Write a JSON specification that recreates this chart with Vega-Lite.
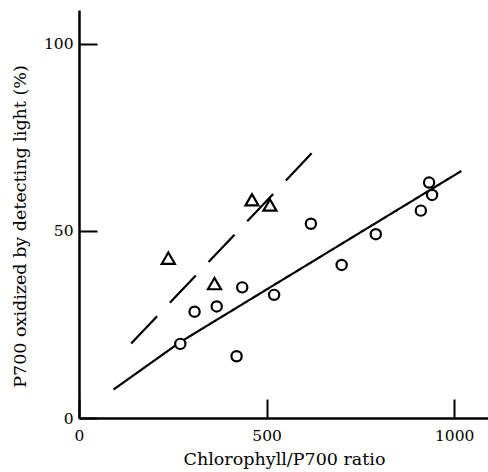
{
  "$schema": "https://vega.github.io/schema/vega-lite/v6.json",
  "width": 409,
  "height": 408,
  "autosize": {"type": "none"},
  "padding": {"left": 79, "top": 10, "right": 0, "bottom": 54},
  "background": "white",
  "config": {
    "view": {"stroke": null},
    "font": "DejaVu Serif",
    "axis": {"titleFont": "DejaVu Serif", "labelFont": "DejaVu Serif"}
  },
  "layer": [
    {
      "data": {"values": [
        {"fit": "solid", "x": 92, "y": 7.6},
        {"fit": "solid", "x": 270, "y": 20.3},
        {"fit": "solid", "x": 1019, "y": 66},
        {"fit": "dashed", "x": 139, "y": 19.9},
        {"fit": "dashed", "x": 620, "y": 70.7}
      ]},
      "mark": {"type": "line", "color": "black", "strokeWidth": 2.2},
      "encoding": {
        "x": {"field": "x", "type": "quantitative",
          "scale": {"domain": [0, 1090], "nice": false, "zero": false},
          "axis": {"title": "Chlorophyll/P700  ratio", "values": [0, 500, 1000], "format": "d", "grid": false,
            "domainColor": "black", "domainWidth": 2.5, "tickColor": "black", "tickWidth": 2, "tickSize": -19,
            "labelFontSize": 15.5, "labelColor": "black", "labelPadding": 29,
            "labelFlush": false, "labelOverlap": false,
            "titleFontSize": 17.5, "titleFontWeight": "normal", "titleColor": "black",
            "titleX": 205, "titleY": 41, "titleBaseline": "middle", "titleAlign": "center"}},
        "y": {"field": "y", "type": "quantitative",
          "scale": {"domain": [0, 109], "nice": false, "zero": false},
          "axis": {"title": "P700 oxidized by detecting light (%)", "values": [0, 50, 100], "format": "d", "grid": false,
            "domainColor": "black", "domainWidth": 2.5, "tickColor": "black", "tickWidth": 2, "tickSize": -18,
            "labelFontSize": 15.5, "labelColor": "black", "labelPadding": 24,
            "labelOverlap": false, "labelFlush": false,
            "titleFontSize": 17.5, "titleFontWeight": "normal", "titleColor": "black",
            "titleX": -59, "titleY": 216, "titleBaseline": "middle", "titleAlign": "center"}},
        "detail": {"field": "fit"},
        "strokeDash": {"field": "fit", "type": "nominal",
          "scale": {"domain": ["solid", "dashed"], "range": [[1, 0], [37.7, 18.5]]}, "legend": null}
      }
    },
    {
      "data": {"values": [
        {"series": "circle", "x": 270, "y": 19.8},
        {"series": "circle", "x": 308, "y": 28.4},
        {"series": "circle", "x": 367, "y": 29.8},
        {"series": "circle", "x": 420, "y": 16.5},
        {"series": "circle", "x": 435, "y": 34.9},
        {"series": "circle", "x": 520, "y": 32.9},
        {"series": "circle", "x": 618, "y": 51.9},
        {"series": "circle", "x": 700, "y": 40.9},
        {"series": "circle", "x": 791, "y": 49.1},
        {"series": "circle", "x": 911, "y": 55.4},
        {"series": "circle", "x": 933, "y": 62.9},
        {"series": "circle", "x": 941, "y": 59.6},
        {"series": "triangle", "x": 238, "y": 42.7},
        {"series": "triangle", "x": 361, "y": 35.9},
        {"series": "triangle", "x": 461, "y": 58.3},
        {"series": "triangle", "x": 509, "y": 56.9}
      ]},
      "mark": {"type": "point", "filled": false, "fill": "white", "fillOpacity": 1, "stroke": "black", "strokeWidth": 2.2, "opacity": 1},
      "encoding": {
        "x": {"field": "x", "type": "quantitative"},
        "y": {"field": "y", "type": "quantitative"},
        "shape": {"field": "series", "type": "nominal",
          "scale": {"domain": ["circle", "triangle"], "range": ["circle", "triangle-up"]}, "legend": null},
        "size": {"field": "series", "type": "nominal",
          "scale": {"domain": ["circle", "triangle"], "range": [105, 170]}, "legend": null}
      }
    }
  ]
}
